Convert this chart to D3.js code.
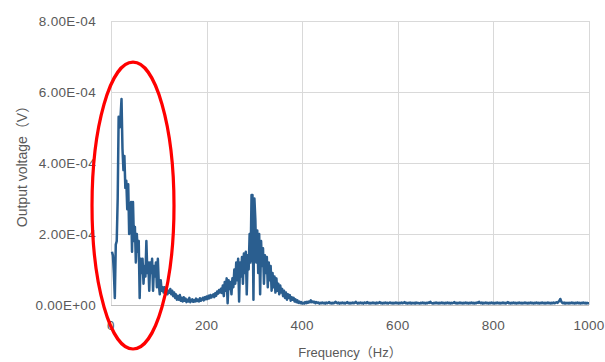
<!DOCTYPE html>
<html>
<head>
<meta charset="utf-8">
<script src="https://cdn.jsdelivr.net/npm/d3@7/dist/d3.min.js"></script>
<style>
  html, body { margin: 0; padding: 0; background: #ffffff; }
  svg { display: block; }
  .tick-label { font-family: "Liberation Sans", Arial, sans-serif; font-size: 13.5px; fill: #595959; letter-spacing: 0.3px; }
  .axis-title { font-family: "Liberation Sans", "Noto Sans CJK JP", sans-serif; fill: #595959; }
</style>
</head>
<body>
<svg id="chart" width="605" height="362"></svg>
<script>
// Spectrum sampled every 2 Hz, starting at 2 Hz. Values are in units of 1e-5 V.
const freqStart = 2;
const freqStep = 2;

// 2 – 120 Hz
const bandLow = [
  15, 14, 9, 2, 17, 18, 30, 53, 50, 53,
  58, 44, 38, 42, 33, 35, 27, 34, 20, 26,
  29, 15, 29, 18, 22, 12, 20, 15, 18, 2,
  13, 9, 13, 6, 11, 8, 18, 9, 12, 4,
  12, 9, 13, 4, 11, 8, 12, 5, 13, 6,
  3, 7, 4, 5, 3.5, 5, 3, 4.5, 3, 4
];
// 122 – 210 Hz
const bandValley = [
  3.5, 4.5, 3, 4, 2.5, 3.5, 2, 3, 1.5, 2.5,
  1.5, 2.8, 1.2, 2, 1, 2.2, 1.2, 1.8, 0.8, 1.5,
  1, 2, 0.8, 1.2, 1.6, 0.9, 1.4, 1, 1.8, 1.1,
  1.5, 1, 1.9, 1.2, 1.6, 2, 1.3, 2.2, 1.6, 2.4,
  1.7, 2.6, 1.9, 2.8, 2.1
];
// 212 – 400 Hz
const bandResonance = [
  2.6, 3, 2.2, 3.3, 2.6, 3.8, 3.2, 4.2, 3.5, 4.6,
  3.4, 5.5, 2.5, 6.5, 4, 7.5, 0.5, 7, 4.5, 6.5,
  3, 7.5, 5, 10, 6, 12, 7, 13, 1, 12,
  8, 13.5, 6, 14.5, 9, 15, 3, 14, 10, 20,
  12, 31, 31, 1.5, 30, 24, 12, 21, 9, 20,
  3, 18, 11, 16, 6, 14, 9, 13.5, 5, 12,
  7, 11, 4, 9, 5, 8, 3.5, 7.5, 4, 6,
  3, 5.5, 3.5, 4.5, 2.5, 4, 2, 3.5, 1.5, 3,
  2, 2.8, 1.2, 2.2, 1.5, 2, 1, 1.6, 0.8, 1.3,
  0.6, 1, 0.5, 0.8, 0.4
];
// 402 – 1000 Hz
const bandTail = [
  0.6, 0.4, 0.8, 0.5, 0.9, 0.6, 1.0, 0.8, 1.3, 0.8,
  1.0, 0.7, 0.9, 0.5, 0.8, 0.6, 0.7, 0.4, 0.6, 0.5,
  0.7, 0.5, 0.6, 0.4, 0.7, 0.5, 0.6, 0.8, 0.5, 0.6,
  0.4, 0.6, 0.5, 0.7, 0.9, 0.6, 0.5, 0.7, 0.4, 0.6,
  0.5, 0.7, 0.5, 0.6, 0.4, 0.6, 0.8, 0.5, 0.6, 0.4,
  0.6, 0.5, 0.7, 0.5, 0.6, 0.9, 0.6, 0.4, 0.6, 0.5,
  0.7, 0.5, 0.6, 0.4, 0.7, 0.6, 0.5, 0.8, 0.5, 0.6,
  0.4, 0.6, 0.5, 0.7, 0.5, 0.6, 0.4, 0.7, 0.5, 0.6,
  0.8, 0.5, 0.6, 0.4, 0.6, 0.5, 0.7, 0.5, 0.6, 0.4,
  0.6, 0.7, 0.5, 0.6, 0.4, 0.6, 0.5, 0.7, 0.5, 0.6,
  0.4, 0.6, 0.5, 0.7, 0.5, 0.6, 0.8, 0.5, 0.6, 0.4,
  0.6, 0.5, 0.7, 0.4, 0.6, 0.5, 0.6, 0.4, 0.7, 0.5,
  0.6, 0.5, 0.4, 0.6, 0.5, 0.7, 0.5, 0.6, 0.4, 0.6,
  0.5, 0.7, 0.6, 0.9, 0.6, 0.5, 0.4, 0.6, 0.5, 0.7,
  0.5, 0.6, 0.4, 0.6, 0.5, 0.7, 0.5, 0.6, 0.4, 0.6,
  0.5, 0.7, 0.5, 0.6, 0.4, 0.6, 0.5, 0.6, 0.8, 0.5,
  0.6, 0.4, 0.6, 0.5, 0.7, 0.5, 0.6, 0.4, 0.6, 0.5,
  0.7, 0.5, 0.6, 0.4, 0.6, 0.5, 0.7, 0.5, 0.6, 0.4,
  0.6, 0.5, 0.7, 0.6, 0.9, 0.6, 0.5, 0.7, 0.4, 0.6,
  0.5, 0.7, 0.5, 0.6, 0.4, 0.6, 0.5, 0.7, 0.5, 0.6,
  0.4, 0.6, 0.5, 0.7, 0.5, 0.6, 0.4, 0.6, 0.5, 0.7,
  0.5, 0.6, 0.4, 0.6, 0.8, 0.5, 0.6, 0.4, 0.6, 0.5,
  0.7, 0.5, 0.6, 0.4, 0.6, 0.5, 0.7, 0.5, 0.6, 0.4,
  0.6, 0.5, 0.7, 0.5, 0.6, 0.4, 0.6, 0.5, 0.7, 0.5,
  0.6, 0.4, 0.6, 0.5, 0.7, 0.5, 0.6, 0.4, 0.6, 0.5,
  0.7, 0.5, 0.6, 0.4, 0.6, 0.5, 0.7, 0.5, 0.6, 0.4,
  0.6, 0.5, 0.7, 0.5, 0.6, 0.8, 0.6, 0.9, 1.2, 1.7,
  1.0, 0.6, 0.5, 0.7, 0.4, 0.6, 0.5, 0.6, 0.4, 0.6,
  0.5, 0.7, 0.5, 0.6, 0.4, 0.6, 0.5, 0.7, 0.5, 0.6,
  0.4, 0.6, 0.5, 0.7, 0.5, 0.6, 0.4, 0.6, 0.5, 0.5
];

const xTicks = [0, 200, 400, 600, 800, 1000];
const yTicks = [0, 20, 40, 60, 80];
const yTickLabels = ["0.00E+00", "2.00E-04", "4.00E-04", "6.00E-04", "8.00E-04"];
const xTitle = "Frequency（Hz）";
const yTitle = "Output voltage（V）";

// Highlighted low-frequency band: frequency span (Hz) and voltage span (1e-5 V)
const highlightFreq = [-39.7, 131.8];
const highlightVolt = [-12.4, 68.4];

const voltage = [].concat(bandLow, bandValley, bandResonance, bandTail);
const series = voltage.map((v, i) => ({ f: freqStart + i * freqStep, v }));

const svg = d3.select("#chart");
const x = d3.scaleLinear().domain([0, 1000]).range([111, 589]);
const y = d3.scaleLinear().domain([0, 80]).range([305, 21]);

// gridlines
svg.append("g").selectAll("line.h").data(yTicks.slice(1)).join("line")
  .attr("x1", x(0)).attr("x2", x(1000))
  .attr("y1", d => Math.round(y(d)) + 0.5).attr("y2", d => Math.round(y(d)) + 0.5)
  .attr("stroke", "#d9d9d9").attr("stroke-width", 1);
svg.append("g").selectAll("line.v").data(xTicks).join("line")
  .attr("x1", d => Math.round(x(d)) + 0.5).attr("x2", d => Math.round(x(d)) + 0.5)
  .attr("y1", y(80)).attr("y2", y(0))
  .attr("stroke", "#d9d9d9").attr("stroke-width", 1);

// x axis baseline
svg.append("line")
  .attr("x1", x(0)).attr("x2", x(1000))
  .attr("y1", Math.round(y(0)) + 0.5).attr("y2", Math.round(y(0)) + 0.5)
  .attr("stroke", "#bfbfbf").attr("stroke-width", 1);

// tick labels
svg.append("g").selectAll("text").data(xTicks).join("text")
  .attr("class", "tick-label")
  .attr("x", d => x(d)).attr("y", 330)
  .attr("text-anchor", "middle")
  .text(d => d);
svg.append("g").selectAll("text").data(yTicks).join("text")
  .attr("class", "tick-label")
  .attr("x", 96).attr("y", d => y(d) + 5)
  .attr("text-anchor", "end")
  .text((d, i) => yTickLabels[i]);

// axis titles
svg.append("text").attr("class", "axis-title")
  .attr("x", (x(0) + x(1000)) / 2).attr("y", 357)
  .attr("text-anchor", "middle").style("font-size", "13px")
  .text(xTitle);
svg.append("text").attr("class", "axis-title")
  .attr("transform", `translate(27, ${(y(0) + y(80)) / 2}) rotate(-90)`)
  .attr("text-anchor", "middle").style("font-size", "14px")
  .text(yTitle);

// spectrum line
const line = d3.line().x(d => x(d.f)).y(d => y(d.v));
svg.append("path").datum(series)
  .attr("d", line)
  .attr("fill", "none")
  .attr("stroke", "#2a5e8f")
  .attr("stroke-width", 2.5)
  .attr("stroke-linejoin", "round");

// highlight ellipse around the low-frequency band
const ex0 = x(highlightFreq[0]), ex1 = x(highlightFreq[1]);
const ey0 = y(highlightVolt[1]), ey1 = y(highlightVolt[0]);
svg.append("ellipse")
  .attr("cx", (ex0 + ex1) / 2).attr("cy", (ey0 + ey1) / 2)
  .attr("rx", (ex1 - ex0) / 2).attr("ry", (ey1 - ey0) / 2)
  .attr("fill", "none").attr("stroke", "#ff0000").attr("stroke-width", 3.2);
</script>
</body>
</html>
